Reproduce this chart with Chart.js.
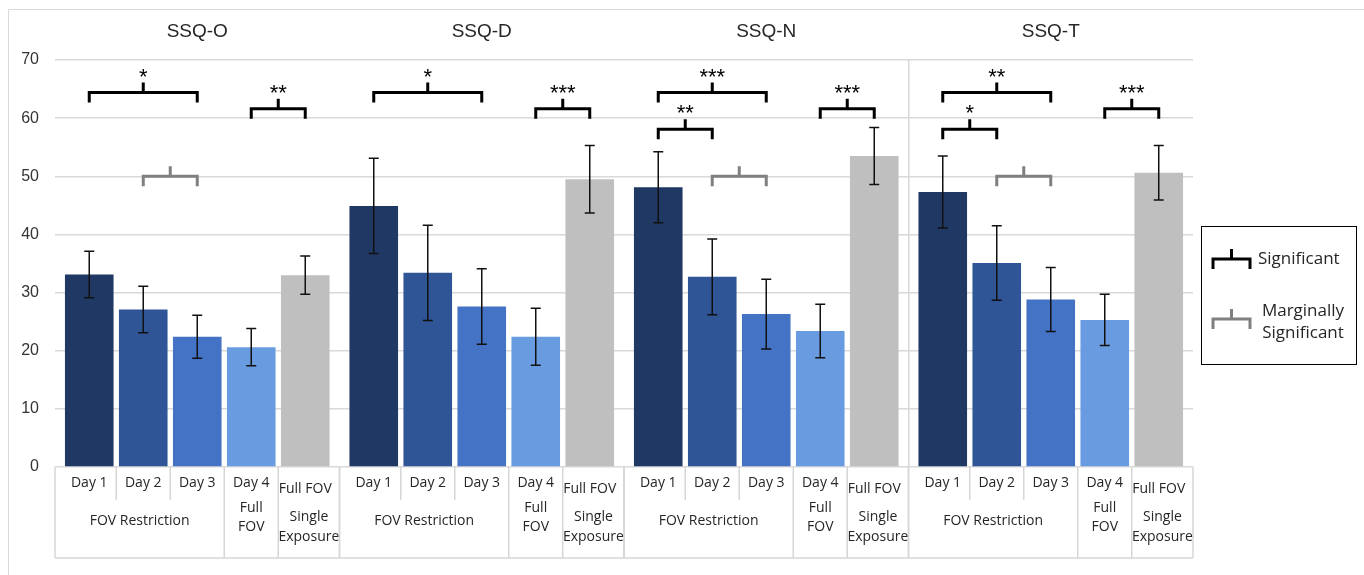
<!DOCTYPE html>
<html lang="en">
<head>
<meta charset="UTF-8">
<title>SSQ scores</title>
<script src="https://cdn.jsdelivr.net/npm/chart.js"></script>
<style>
  body { margin: 0; background: #fff; }
</style>
</head>
<body>
<canvas id="ssqChart" width="1364" height="575"></canvas>
<script>
  // data
  var groups = ['SSQ-O', 'SSQ-D', 'SSQ-N', 'SSQ-T'];
  var conditions = ['Day 1', 'Day 2', 'Day 3', 'Day 4', 'Full FOV'];
  var day1 = [33.1, 44.9, 48.1, 47.3];
  var day2 = [27.1, 33.4, 32.7, 35.1];
  var day3 = [22.4, 27.6, 26.3, 28.8];
  var day4 = [20.6, 22.4, 23.4, 25.3];
  var fullFov = [33.0, 49.5, 53.5, 50.6];
  var day1Err = [4.0, 8.2, 6.1, 6.2];
  var day2Err = [4.0, 8.2, 6.5, 6.4];
  var day3Err = [3.7, 6.5, 6.0, 5.5];
  var day4Err = [3.2, 4.9, 4.6, 4.4];
  var fullFovErr = [3.3, 5.8, 4.9, 4.7];
  var yMax = 70;
  var yStep = 10;

  // second row of the category table
  var phaseLabels = [['FOV Restriction'], ['Full', 'FOV'], ['Single', 'Exposure']];

  // significance brackets: group, first bar, last bar, level, stars
  var brackets = [
    { g: 0, from: 0, to: 2, level: 64.4, stars: '*' },
    { g: 0, from: 3, to: 4, level: 61.6, stars: '**' },
    { g: 0, from: 1, to: 2, level: 50.0, stars: '', marginal: true },
    { g: 1, from: 0, to: 2, level: 64.4, stars: '*' },
    { g: 1, from: 3, to: 4, level: 61.6, stars: '***' },
    { g: 2, from: 0, to: 2, level: 64.4, stars: '***' },
    { g: 2, from: 0, to: 1, level: 58.1, stars: '**' },
    { g: 2, from: 3, to: 4, level: 61.6, stars: '***' },
    { g: 2, from: 1, to: 2, level: 50.0, stars: '', marginal: true },
    { g: 3, from: 0, to: 2, level: 64.4, stars: '**' },
    { g: 3, from: 0, to: 1, level: 58.1, stars: '*' },
    { g: 3, from: 3, to: 4, level: 61.6, stars: '***' },
    { g: 3, from: 1, to: 2, level: 50.0, stars: '', marginal: true }
  ];

  var series = [day1, day2, day3, day4, fullFov];
  var errors = [day1Err, day2Err, day3Err, day4Err, fullFovErr];
  var colors = ['#203864', '#2F5597', '#4472C4', '#699BE1', '#BFBFBF'];

  var lineGrey = '#d6d6d6';
  var textColor = '#262626';

  function drawBracket(ctx, x1, x2, y, color) {
    ctx.save();
    ctx.strokeStyle = color;
    ctx.lineWidth = 3;
    ctx.lineCap = 'butt';
    ctx.lineJoin = 'miter';
    ctx.beginPath();
    ctx.moveTo(x1, y + 10);
    ctx.lineTo(x1, y);
    ctx.lineTo(x2, y);
    ctx.lineTo(x2, y + 10);
    ctx.moveTo((x1 + x2) / 2, y);
    ctx.lineTo((x1 + x2) / 2, y - 10);
    ctx.stroke();
    ctx.restore();
  }

  var extrasPlugin = {
    id: 'extras',
    afterDatasetsDraw: function(chart) {
      var ctx = chart.ctx;
      var yScale = chart.scales.y;
      var xScale = chart.scales.x;
      var area = chart.chartArea;

      // error bars
      ctx.save();
      ctx.strokeStyle = '#111';
      ctx.lineWidth = 1.5;
      series.forEach(function(vals, i) {
        var meta = chart.getDatasetMeta(i);
        vals.forEach(function(v, j) {
          var x = meta.data[j].x;
          var top = yScale.getPixelForValue(v + errors[i][j]);
          var bot = yScale.getPixelForValue(v - errors[i][j]);
          ctx.beginPath();
          ctx.moveTo(x, top); ctx.lineTo(x, bot);
          ctx.moveTo(x - 5, top); ctx.lineTo(x + 5, top);
          ctx.moveTo(x - 5, bot); ctx.lineTo(x + 5, bot);
          ctx.stroke();
        });
      });
      ctx.restore();

      // brackets + stars
      brackets.forEach(function(b) {
        var x1 = chart.getDatasetMeta(b.from).data[b.g].x;
        var x2 = chart.getDatasetMeta(b.to).data[b.g].x;
        var y = yScale.getPixelForValue(b.level);
        drawBracket(ctx, x1, x2, y, b.marginal ? '#808080' : '#000');
        if (b.stars) {
          ctx.save();
          ctx.fillStyle = '#000';
          ctx.font = '22px "Liberation Sans", Arial, sans-serif';
          ctx.textAlign = 'center';
          ctx.textBaseline = 'alphabetic';
          ctx.fillText(b.stars, (x1 + x2) / 2, y - 10 + 1);
          ctx.restore();
        }
      });

      // category table under the plot
      var top = area.bottom;
      var bottom = 558;
      var half = (xScale.getPixelForValue(1) - xScale.getPixelForValue(0)) / 2;
      ctx.save();
      ctx.strokeStyle = lineGrey;
      ctx.lineWidth = 1.5;
      ctx.fillStyle = textColor;
      ctx.textAlign = 'center';
      ctx.textBaseline = 'middle';
      ctx.font = '14px "Open Sans", sans-serif';
      groups.forEach(function(name, g) {
        var gc = xScale.getPixelForValue(g);
        var left = gc - half, right = gc + half;
        var cx = conditions.map(function(c, i) { return chart.getDatasetMeta(i).data[g].x; });
        var edges = [left];
        for (var i = 0; i < cx.length - 1; i++) edges.push((cx[i] + cx[i + 1]) / 2);
        edges.push(right);

        ctx.beginPath();
        edges.forEach(function(e, k) {
          var short = (k === 1 || k === 2);
          ctx.moveTo(e, top);
          ctx.lineTo(e, short ? 500 : bottom);
        });
        ctx.moveTo(left, bottom); ctx.lineTo(right, bottom);
        ctx.stroke();

        conditions.forEach(function(c, i) {
          ctx.fillText(c, cx[i], i === 4 ? 489 : 483);
        });
        ctx.fillText(phaseLabels[0][0], (edges[0] + edges[3]) / 2, 521);
        ctx.fillText(phaseLabels[1][0], (edges[3] + edges[4]) / 2, 508);
        ctx.fillText(phaseLabels[1][1], (edges[3] + edges[4]) / 2, 527);
        ctx.fillText(phaseLabels[2][0], (edges[4] + edges[5]) / 2, 517);
        ctx.fillText(phaseLabels[2][1], (edges[4] + edges[5]) / 2, 537);
      });
      ctx.restore();

      // legend box
      ctx.save();
      ctx.strokeStyle = '#000';
      ctx.lineWidth = 1;
      ctx.strokeRect(1201.5, 226.5, 155, 138);
      drawBracket(ctx, 1213, 1250, 259, '#000');
      drawBracket(ctx, 1213, 1250, 319, '#808080');
      ctx.fillStyle = textColor;
      ctx.font = '17px "Open Sans", sans-serif';
      ctx.textAlign = 'left';
      ctx.textBaseline = 'middle';
      ctx.fillText('Significant', 1258, 259);
      ctx.textAlign = 'center';
      ctx.fillText('Marginally', 1303, 311);
      ctx.fillText('Significant', 1303, 333);
      ctx.restore();

      // outer frame
      ctx.save();
      ctx.strokeStyle = '#d9d9d9';
      ctx.lineWidth = 1;
      ctx.beginPath();
      ctx.moveTo(8.5, 575); ctx.lineTo(8.5, 9.5); ctx.lineTo(1364, 9.5);
      ctx.stroke();
      ctx.restore();
    }
  };

  var ctx = document.getElementById('ssqChart').getContext('2d');
  var ssqChart = new Chart(ctx, {
    type: 'bar',
    data: {
      labels: groups,
      datasets: conditions.map(function(c, i) {
        return {
          label: c,
          data: series[i],
          backgroundColor: colors[i],
          borderWidth: 0,
          categoryPercentage: 0.949,
          barPercentage: 0.9
        };
      })
    },
    options: {
      responsive: false,
      animation: false,
      layout: { padding: { top: 0, left: 0, right: 171, bottom: 108 } },
      plugins: {
        legend: { display: false },
        tooltip: { enabled: false }
      },
      scales: {
        x: {
          position: 'top',
          afterFit: function(scale) { scale.height = 60; },
          border: { display: false },
          grid: {
            drawTicks: false,
            lineWidth: 1.5,
            color: function(c) { return (c.index === 3 || c.index === 4) ? '#d9d9d9' : 'rgba(0,0,0,0)'; }
          },
          ticks: {
            padding: 17,
            color: textColor,
            font: { family: '"Liberation Sans", Arial, sans-serif', size: 19 }
          }
        },
        y: {
          min: 0,
          max: yMax,
          afterFit: function(scale) { scale.width = 55; },
          border: { display: false },
          grid: { drawTicks: false, color: '#d9d9d9', lineWidth: 1.5 },
          ticks: {
            stepSize: yStep,
            padding: 16,
            color: '#333',
            font: { family: '"Liberation Sans", Arial, sans-serif', size: 16 }
          }
        }
      }
    },
    plugins: [extrasPlugin]
  });
</script>
</body>
</html>
